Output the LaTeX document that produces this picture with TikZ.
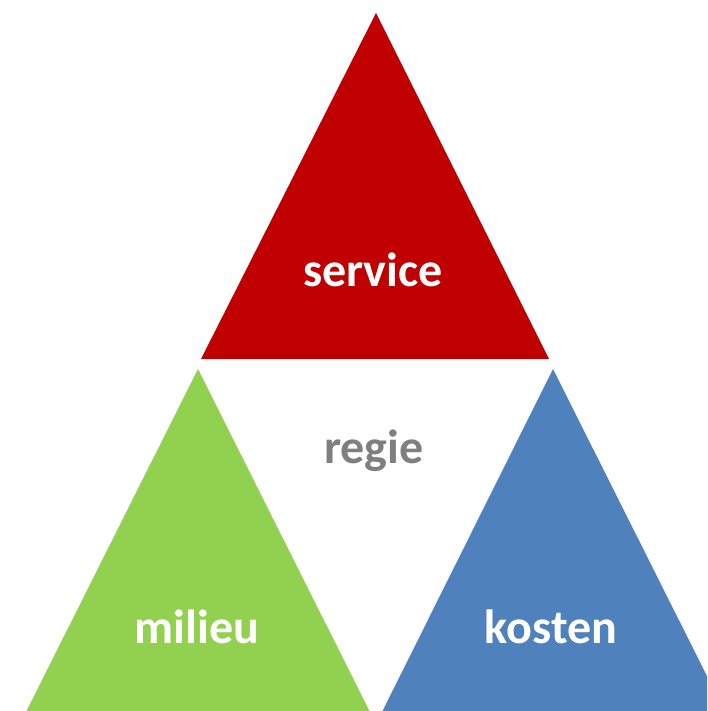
\documentclass[tikz,border=0pt]{standalone}
\usepackage{fontspec}
\setmainfont{Carlito}
\definecolor{tred}{HTML}{C00000}
\definecolor{tgreen}{HTML}{92D050}
\definecolor{tblue}{HTML}{4F81BD}
\definecolor{tgray}{HTML}{7F7F7F}
\begin{document}
\begin{tikzpicture}[x=1pt,y=-1pt,
  lbl/.style={anchor=base,inner sep=0pt,font=\fontsize{48}{50}\selectfont\bfseries}]
\useasboundingbox (0,0) rectangle (707,711);
\clip (0,0) rectangle (707,711);
\fill[tred] (376,13) -- (549,359) -- (201,359) -- cycle;
\fill[tgreen] (198,369) -- (370,712) -- (26,712) -- cycle;
\fill[tblue] (553,369) -- (725,712) -- (382,712) -- cycle;
\node[lbl,text=white] (service) at (373,286) {service};
\node[lbl,text=tgray] (regie) at (374,463) {regie};
\node[lbl,text=white] (milieu) at (197,643) {milieu};
\node[lbl,text=white] (kosten) at (551,643) {kosten};
\end{tikzpicture}
\end{document}
